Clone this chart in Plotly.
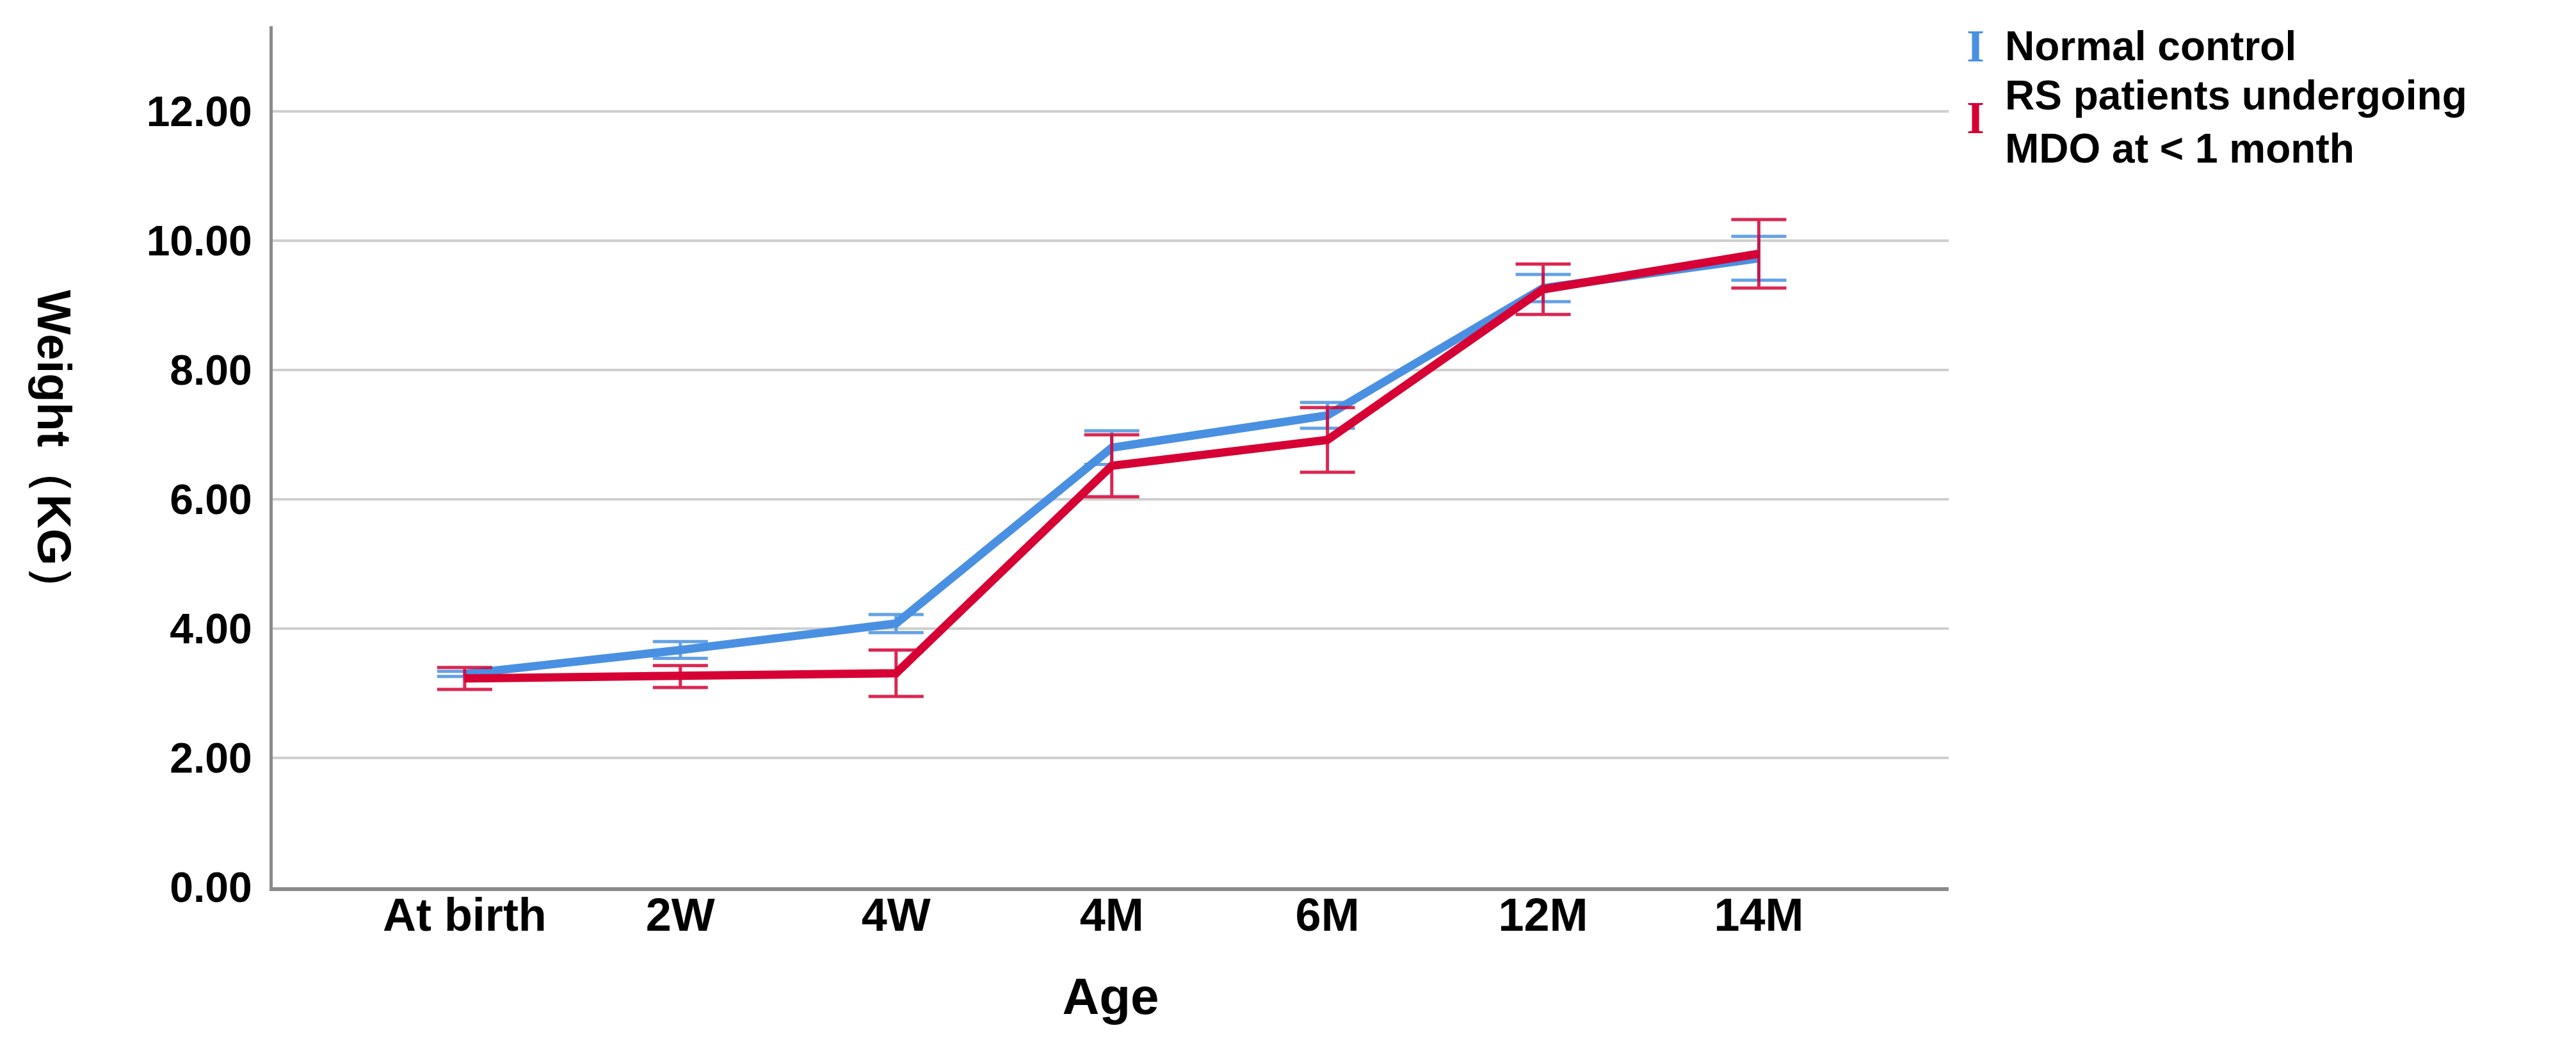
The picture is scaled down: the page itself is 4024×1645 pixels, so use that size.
import plotly.graph_objects as go

# ---- data ----
categories = ["At birth", "2W", "4W", "4M", "6M", "12M", "14M"]
series_names = ["Normal control", "RS patients undergoing<br>MDO at < 1 month"]
normal_mean = [3.30, 3.67, 4.08, 6.80, 7.30, 9.27, 9.73]
normal_err = [0.04, 0.13, 0.14, 0.26, 0.20, 0.21, 0.34]
rs_mean = [3.23, 3.26, 3.31, 6.52, 6.92, 9.25, 9.80]
rs_err = [0.17, 0.17, 0.36, 0.48, 0.50, 0.39, 0.53]
y_ticks = [0, 2, 4, 6, 8, 10, 12]

BLUE = "rgb(74,144,226)"
RED = "rgb(214,0,52)"
BLUE_EB = "rgba(74,144,226,0.85)"
RED_EB = "rgba(214,0,52,0.85)"
FONT = "Liberation Sans, Arial, sans-serif"

W, H = 4024, 1645
L, R, T, B = 418, 3036, 33, 1378  # plot area in pixels


def px(x):
    return (x - L) / (R - L)


def py(y):
    return (B - y) / (B - T)


fig = go.Figure()
fig.add_trace(go.Scatter(
    x=categories, y=normal_mean, mode="lines", name=series_names[0],
    line=dict(color=BLUE, width=13),
    error_y=dict(type="data", array=normal_err, visible=True,
                 color=BLUE_EB, thickness=5, width=43),
    showlegend=False,
))
fig.add_trace(go.Scatter(
    x=categories, y=rs_mean, mode="lines",
    name=series_names[1].replace("<br>", " "),
    line=dict(color=RED, width=13),
    error_y=dict(type="data", array=rs_err, visible=True,
                 color=RED_EB, thickness=5, width=43),
    showlegend=False,
))

annotations = []
# y-axis title (reads top to bottom)
annotations.append(dict(
    text="Weight（KG）", x=px(77), y=py(697), xref="paper", yref="paper",
    textangle=90, showarrow=False, xanchor="center", yanchor="middle",
    font=dict(family=FONT, size=74, color="black", weight="bold"),
))
# legend (error-bar style icons)
legend_rows = [
    (BLUE, series_names[0], 64, 64),
    (RED, series_names[1], 182, 176),
]
for color, label, ty, iy in legend_rows:
    annotations.append(dict(
        text="I", x=px(3078), y=py(iy), xref="paper", yref="paper",
        showarrow=False, xanchor="center", yanchor="middle",
        font=dict(family="Liberation Serif, serif", size=72, color=color,
                  weight="bold"),
    ))
    annotations.append(dict(
        text=label, x=px(3122), y=py(ty), xref="paper", yref="paper",
        showarrow=False, xanchor="left", yanchor="middle", align="left",
        font=dict(family=FONT, size=64, color="black", weight="bold"),
    ))

fig.update_layout(
    width=W, height=H,
    margin=dict(l=L, r=W - R, t=T, b=H - B, autoexpand=False),
    paper_bgcolor="white", plot_bgcolor="white",
    showlegend=False,
    annotations=annotations,
    xaxis=dict(
        type="category", range=[-0.89, 6.88],
        showgrid=False, zeroline=False,
        showline=True, linecolor="#8a8a8a", linewidth=6,
        ticks="", ticklabelstandoff=-24,
        tickfont=dict(family=FONT, size=72, color="black", weight="bold"),
        title=dict(text="Age", standoff=62,
                   font=dict(family=FONT, size=80, color="black", weight="bold")),
    ),
    yaxis=dict(
        range=[0, 13.32], tickvals=y_ticks, tickformat=".2f",
        showgrid=True, gridcolor="#cfcfcf", gridwidth=4,
        zeroline=False, showline=True, linecolor="#8a8a8a", linewidth=5,
        ticks="", ticklabelstandoff=14,
        tickfont=dict(family=FONT, size=66, color="black", weight="bold"),
    ),
)

fig.write_html("out.html")
